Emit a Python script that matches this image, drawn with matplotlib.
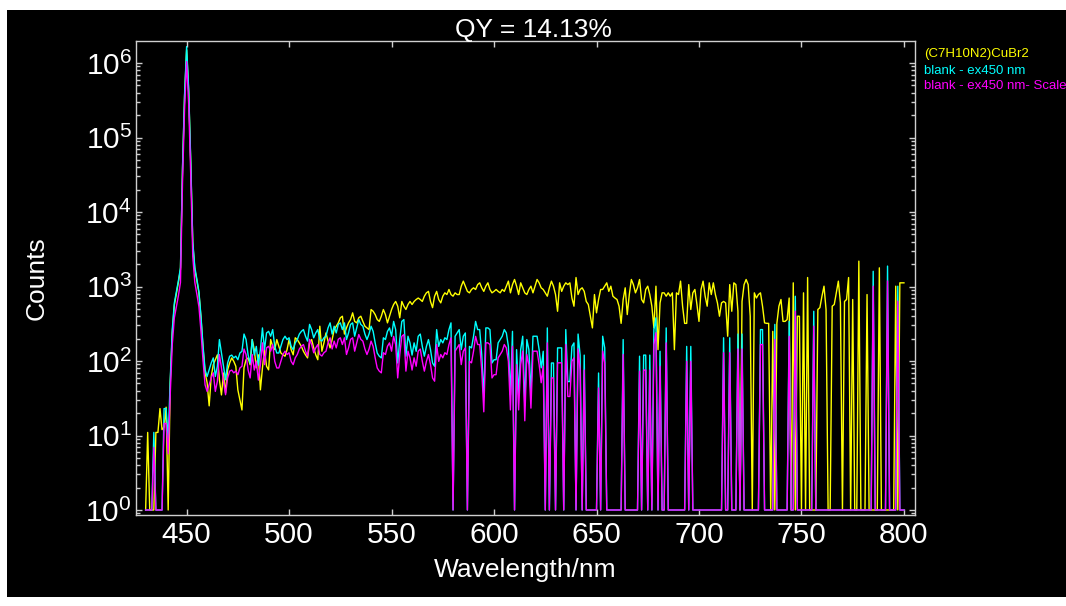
import numpy as np
import matplotlib
matplotlib.use('Agg')
import matplotlib.pyplot as plt
from matplotlib import font_manager
from matplotlib.patches import Rectangle
from matplotlib.ticker import LogLocator, FixedLocator, NullFormatter

# ---------------- data ----------------
wavelength = np.arange(430, 801)  # nm, 1 nm steps

sample_counts = [
    0, 11, 0, 0, 0, 11, 11, 23, 12, 13,
    24, 0, 50, 240, 560, 800, 1150, 1700, 38000, 360000,
    1500000, 420000, 46000, 3800, 1700, 1200, 820, 380, 150, 70,
    51, 25, 62, 89, 104, 121, 56, 35, 69, 37,
    76, 94, 110, 99, 85, 41, 30, 22, 81, 104,
    110, 89, 194, 142, 81, 121, 41, 81, 142, 85,
    76, 194, 157, 142, 194, 157, 128, 121, 116, 142,
    194, 142, 121, 205, 194, 175, 157, 135, 121, 110,
    175, 194, 150, 121, 104, 293, 135, 175, 238, 185,
    150, 194, 264, 293, 325, 380, 399, 230, 278, 325,
    360, 443, 340, 325, 380, 399, 340, 293, 278, 264,
    491, 465, 420, 360, 340, 399, 491, 420, 325, 399,
    491, 573, 630, 544, 380, 630, 544, 491, 573, 630,
    573, 630, 669, 700, 669, 630, 741, 822, 860, 630,
    520, 741, 860, 669, 603, 741, 822, 780, 912, 780,
    741, 822, 780, 780, 1010, 1180, 1010, 860, 822, 912,
    960, 912, 1060, 1120, 960, 860, 1010, 1120, 912, 822,
    860, 912, 860, 822, 912, 860, 1010, 1180, 822, 1060,
    1242, 1010, 780, 1120, 960, 822, 780, 912, 1010, 822,
    1010, 1242, 1120, 960, 912, 822, 741, 960, 1180, 1010,
    780, 465, 1120, 860, 1010, 1120, 1060, 1120, 700, 544,
    1320, 780, 912, 960, 860, 630, 573, 399, 278, 780,
    443, 669, 912, 912, 1010, 1120, 860, 1010, 741, 700,
    669, 544, 320, 669, 960, 420, 780, 1242, 1060, 822,
    960, 1242, 669, 603, 912, 1010, 780, 544, 278, 1010,
    142, 603, 822, 822, 741, 822, 741, 822, 142, 822,
    780, 1180, 544, 320, 320, 1060, 491, 822, 912, 573,
    340, 912, 1180, 741, 544, 1120, 780, 1120, 780, 603,
    399, 603, 630, 603, 215, 1060, 465, 1120, 1060, 465,
    0, 630, 1060, 1242, 1060, 400, 0, 822, 700, 780,
    822, 544, 325, 320, 320, 0, 250, 0, 320, 544,
    669, 340, 340, 360, 700, 0, 1120, 0, 399, 399,
    0, 822, 0, 1320, 0, 0, 0, 0, 491, 520,
    741, 1010, 491, 0, 0, 544, 573, 822, 1180, 603,
    0, 630, 669, 1320, 0, 669, 0, 0, 2190, 0,
    0, 0, 780, 0, 0, 0, 0, 0, 1780, 0,
    0, 0, 0, 0, 0, 0, 1010, 0, 1120, 1120,
    1120,
]

blank_counts = [
    0, 0, 0, 0, 11, 0, 0, 0, 0, 23,
    23, 9, 56, 265, 600, 850, 1200, 1800, 40000, 380000,
    1660000, 450000, 50000, 4000, 1800, 1250, 850, 400, 160, 76,
    62, 76, 94, 110, 62, 85, 194, 128, 85, 56,
    94, 116, 120, 110, 116, 104, 128, 135, 230, 194,
    120, 94, 194, 120, 157, 88, 142, 278, 142, 238,
    250, 215, 264, 157, 128, 128, 157, 194, 215, 194,
    205, 157, 142, 175, 194, 230, 250, 264, 215, 185,
    310, 264, 205, 238, 264, 194, 185, 205, 215, 278,
    325, 230, 293, 238, 310, 325, 264, 325, 194, 238,
    310, 325, 215, 278, 360, 310, 293, 230, 194, 230,
    293, 250, 175, 128, 116, 110, 205, 194, 250, 278,
    215, 340, 264, 94, 194, 340, 360, 116, 215, 175,
    120, 175, 135, 215, 230, 157, 116, 157, 194, 142,
    94, 85, 264, 157, 194, 175, 205, 194, 264, 325,
    0, 215, 238, 264, 142, 215, 238, 0, 157, 150,
    215, 340, 264, 264, 121, 33, 278, 278, 264, 94,
    104, 104, 175, 194, 215, 264, 238, 157, 35, 250,
    0, 142, 35, 142, 215, 25, 194, 142, 37, 215,
    215, 215, 142, 81, 135, 0, 278, 0, 94, 94,
    0, 150, 150, 150, 0, 264, 53, 53, 157, 175,
    0, 230, 120, 0, 120, 0, 0, 0, 0, 0,
    0, 69, 0, 215, 150, 0, 0, 0, 0, 0,
    0, 0, 0, 194, 0, 0, 0, 0, 0, 0,
    0, 116, 0, 120, 120, 0, 120, 0, 264, 380,
    0, 135, 0, 0, 278, 0, 0, 0, 0, 0,
    0, 0, 0, 0, 157, 0, 157, 0, 0, 0,
    0, 0, 0, 0, 0, 0, 0, 0, 0, 0,
    0, 0, 205, 0, 0, 205, 0, 0, 0, 230,
    0, 230, 0, 0, 0, 0, 0, 0, 0, 0,
    264, 264, 0, 0, 0, 0, 0, 310, 0, 0,
    0, 0, 0, 0, 340, 0, 0, 740, 0, 0,
    0, 0, 0, 0, 0, 0, 465, 0, 0, 0,
    0, 0, 0, 0, 0, 0, 0, 0, 0, 0,
    0, 0, 0, 0, 0, 0, 0, 0, 0, 0,
    0, 0, 0, 0, 0, 1600, 0, 0, 0, 0,
    0, 0, 1880, 0, 0, 0, 0, 1010, 0, 0,
    0,
]

blank_scale = 0.63  # ratio of the "Scaled" blank to the blank

series_labels = ['(C7H10N2)CuBr2', 'blank - ex450 nm', 'blank - ex450 nm- Scaled']
series_colors = ['#ffff00', '#00ffff', '#ff00ff']
title_text = 'QY = 14.13%'
x_ticks = [450, 500, 550, 600, 650, 700, 750, 800]
y_ticks = [1e0, 1e1, 1e2, 1e3, 1e4, 1e5, 1e6]

# ---------------- figure ----------------
names = {f.name for f in font_manager.fontManager.ttflist}
tick_font = 'Liberation Sans Narrow' if 'Liberation Sans Narrow' in names else 'Liberation Sans'

plt.rcParams['font.family'] = ['Liberation Sans', 'DejaVu Sans']
plt.rcParams['mathtext.fontset'] = 'custom'
plt.rcParams['mathtext.rm'] = tick_font
plt.rcParams['mathtext.it'] = tick_font
plt.rcParams['mathtext.bf'] = tick_font

W, H = 1066, 606
fig = plt.figure(figsize=(W / 100, H / 100), dpi=100, facecolor='white')
fig.patches.append(Rectangle((7 / W, 1 - 597 / H), 1 - 7 / W, (597 - 10) / H,
                             transform=fig.transFigure, facecolor='black',
                             edgecolor='none', zorder=-10))

ax = fig.add_axes([136 / W, 1 - 515 / H, (915 - 136) / W, (515 - 41) / H])
ax.set_facecolor('black')

sample = np.maximum(np.array(sample_counts, dtype=float), 1)
blank_raw = np.array(blank_counts, dtype=float)
blank = np.maximum(blank_raw, 1)
blank_scaled = np.maximum(blank_raw * blank_scale, 1)

ax.plot(wavelength, sample, color=series_colors[0], lw=1.0, zorder=2)
ax.plot(wavelength, blank, color=series_colors[1], lw=1.0, zorder=3)
ax.plot(wavelength, blank_scaled, color=series_colors[2], lw=1.0, zorder=4)

ax.set_yscale('log')
ax.set_xlim(425.3, 805.4)
ax.set_ylim(10 ** (-5 / 74.5), 10 ** (6 + 22 / 74.5))

ax.xaxis.set_major_locator(FixedLocator(x_ticks))
ax.yaxis.set_major_locator(FixedLocator(y_ticks))
ax.yaxis.set_minor_locator(LogLocator(base=10, subs=np.arange(2, 10), numticks=20))
ax.yaxis.set_minor_formatter(NullFormatter())

spine_color = '#cfcfcf'
for s in ax.spines.values():
    s.set_color(spine_color)
    s.set_linewidth(1.0)

ax.tick_params(axis='both', which='both', direction='in', color=spine_color,
               top=True, right=True, labelcolor='white', width=1.0)
ax.tick_params(axis='both', which='major', length=4.5, labelsize=21.5,
               labelfontfamily=tick_font)
ax.tick_params(axis='y', which='minor', length=3)
ax.tick_params(axis='x', which='major', pad=4)
ax.tick_params(axis='y', which='major', pad=3)

fig.text(0.5, 1 - 37 / H, title_text, ha='center', va='baseline',
         fontsize=19, color='white')
fig.text(525.5 / W, 1 - 577 / H, 'Wavelength/nm', ha='center', va='baseline',
         fontsize=19, color='white')
fig.text(37 / W, 1 - 278 / H, 'Counts', ha='center', va='center',
         rotation=90, fontsize=19, color='white')

legend_y = [54, 70.5, 86]
for lab, col, yy in zip(series_labels, series_colors, legend_y):
    fig.text(924 / W, 1 - yy / H, lab, ha='left', va='center',
             fontsize=9.5, color=col)

fig.savefig('out.png', dpi=100, facecolor=fig.get_facecolor())
